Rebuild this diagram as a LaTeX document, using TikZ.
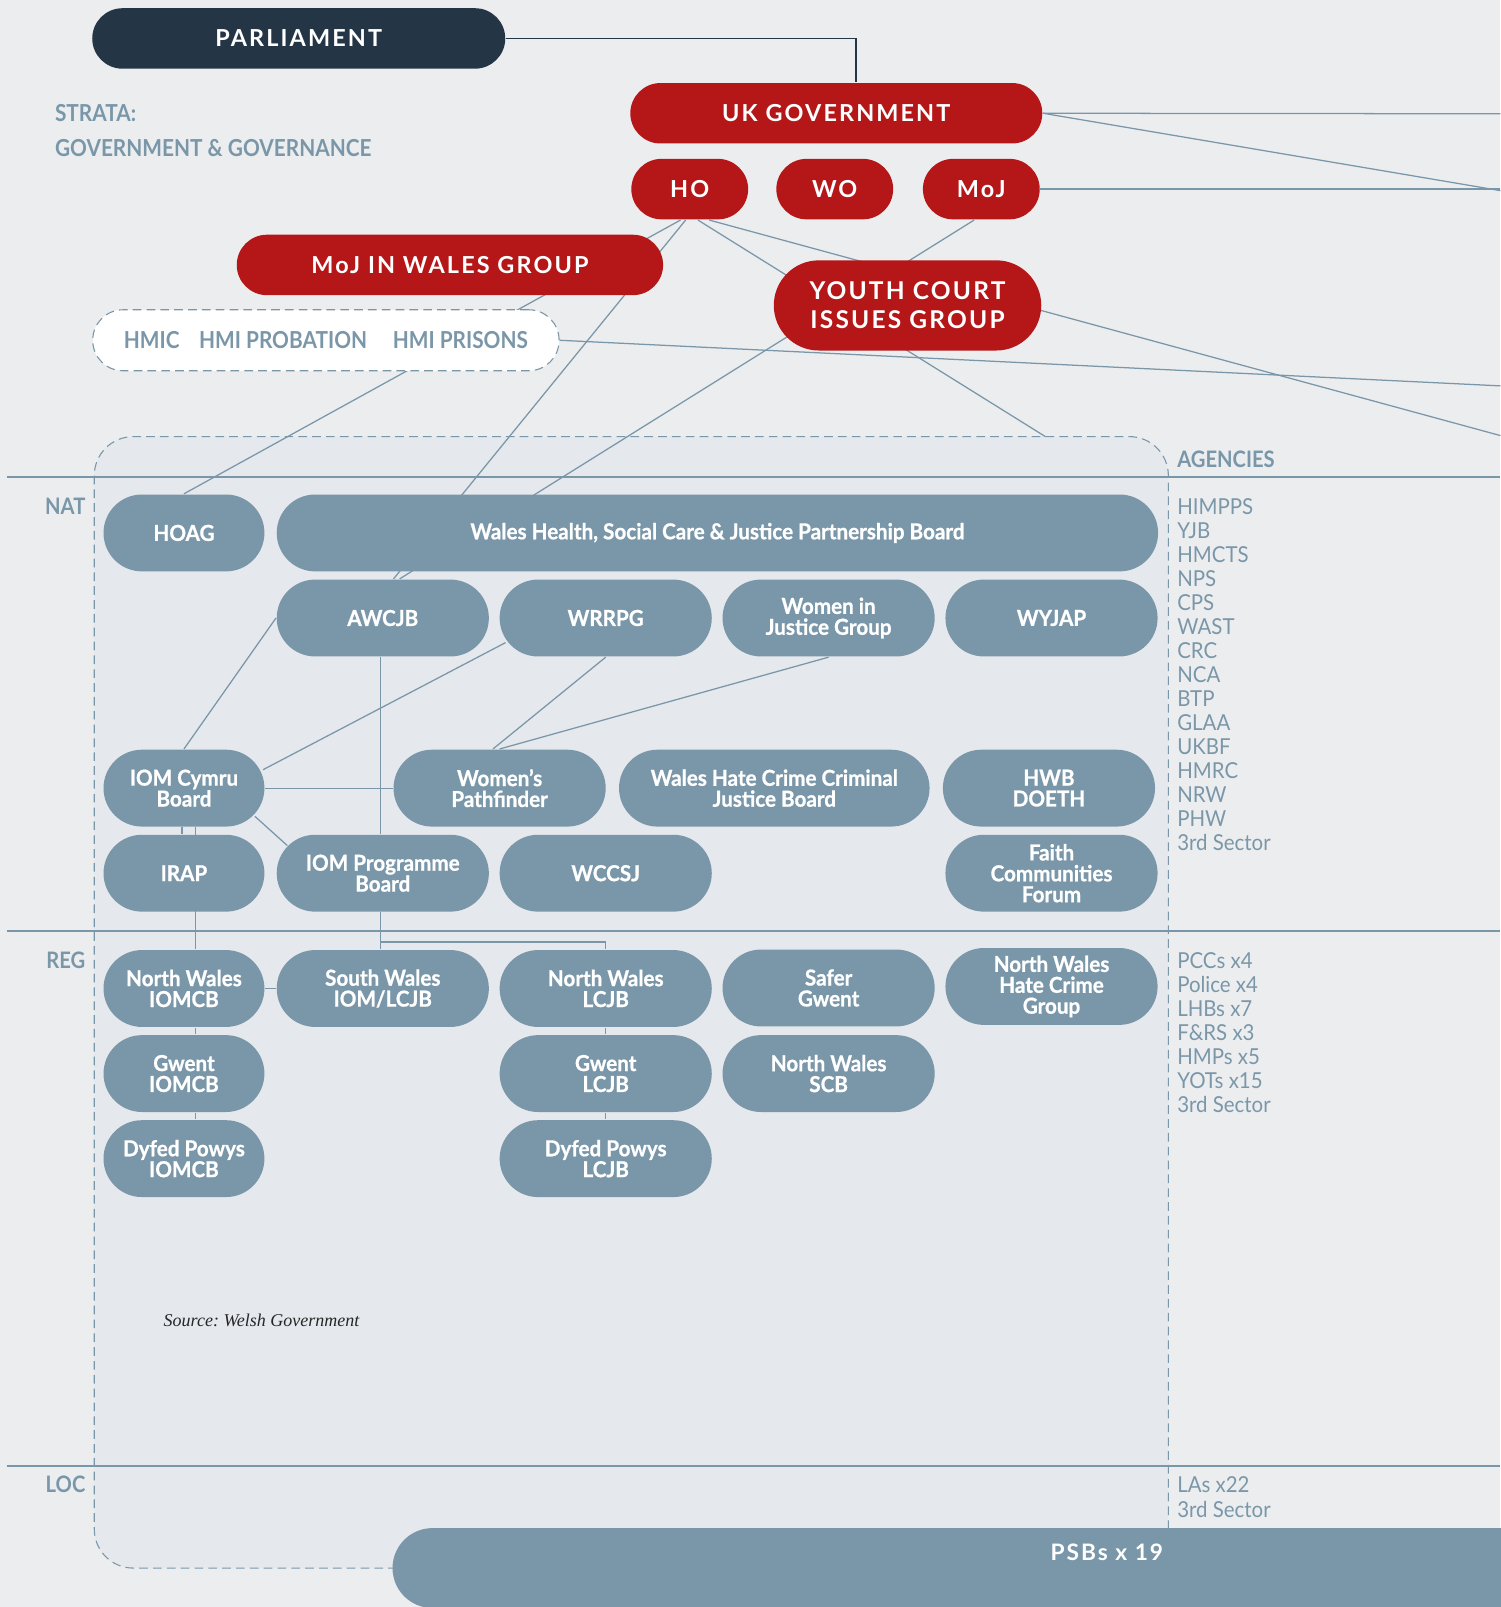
\documentclass[tikz,border=0pt]{standalone}
\usepackage{fontspec}
\newfontfamily\condfont{Lato}[FakeStretch=0.94,FakeBold=0.8]
\newfontfamily\tagfont{Lato}[FakeStretch=0.89]
\newfontfamily\agencyfont{Lato}[FakeStretch=0.93]
\newfontfamily\capsfont{Lato}[LetterSpace=9]
\newfontfamily\srcfont{Liberation Serif}
\usetikzlibrary{calc}
\definecolor{wred}{HTML}{B51718}
\definecolor{navy}{HTML}{243546}
\definecolor{slate}{HTML}{7A97A9}
\definecolor{paper}{HTML}{ECEDEF}
\definecolor{wales}{HTML}{E5E8EC}
\pgfdeclarelayer{back}
\pgfdeclarelayer{mid}
\pgfsetlayers{back,mid,main}
\begin{document}
\begin{tikzpicture}[x=0.1mm,y=-0.1mm,
    link/.style={draw=slate,line width=0.35pt},
    pill/.style={rounded corners=#1,inner sep=0pt,align=center,text=white},
    redbox/.style={pill=2.95mm,fill=wred,minimum height=5.9mm,font=\capsfont\bfseries\fontsize{6.5}{8}\selectfont},
    board/.style={pill=3.75mm,fill=slate,minimum height=7.5mm,minimum width=#1,font=\condfont\bfseries\fontsize{6.1}{5.8}\selectfont},
    board/.default=20.7mm,
    tag/.style={inner sep=0pt,text=slate,font=\tagfont\bfseries\fontsize{#1}{7}\selectfont},
    tag/.default=6.3,
    agency/.style={inner sep=0pt,anchor=west,text=slate,text height=4.4pt,text depth=0pt,font=\agencyfont\fontsize{6.1}{7}\selectfont}]
  \useasboundingbox (0,0) rectangle (1464,1568);

  \node[redbox,fill=navy,minimum width=40.3mm] (parl) at (291.5,37.5) {PARLIAMENT};
  \node[redbox,minimum width=40.2mm] (ukgov) at (816,110.5) {UK GOVERNMENT};
  \node[redbox,minimum width=11.4mm] (ho) at (673,184.5) {HO};
  \node[redbox,minimum width=11.4mm] (wo) at (814.5,184.5) {WO};
  \node[redbox,minimum width=11.4mm] (moj) at (957.5,184.5) {MoJ};
  \node[redbox,minimum width=41.6mm] (mojwg) at (439,258.5) {MoJ IN WALES GROUP};
  \node[redbox,minimum width=26.1mm,minimum height=8.8mm,rounded corners=4.4mm,font=\capsfont\bfseries\fontsize{6.8}{8}\selectfont] (ycig) at (885.5,298) {YOUTH COURT\\ISSUES GROUP};
  \node[pill=2.95mm,draw=slate,line width=0.3pt,dash pattern=on 0.85mm off 0.5mm,fill=white,minimum width=45.5mm,minimum height=5.95mm,
    text=slate,font=\tagfont\bfseries\fontsize{6.5}{8}\selectfont] (hmi) at (318,332) {HMIC\hspace{1.9mm}HMI PROBATION\hspace{2.5mm}HMI PRISONS};

  \node[tag=6.5,anchor=west] (strata) at (53,110.4) {STRATA:};
  \node[tag=6.5,anchor=west] (govern) at (53,144.5) {GOVERNMENT \& GOVERNANCE};
  \node[tag,anchor=east] (nat) at (84,494) {NAT};
  \node[tag,anchor=east] (reg) at (84,936.5) {REG};
  \node[tag,anchor=east] (loc) at (84,1448.5) {LOC};
  \node[tag,anchor=west] (agencies) at (1148,448) {AGENCIES};

  \node[board=15.7mm] (hoag) at (179.5,520) {HOAG};
  \node[board=86mm] (whsc) at (700,520) {Wales Health, Social Care \& Justice Partnership Board};
  \node[board] (awcjb) at (373.5,603) {AWCJB};
  \node[board] (wrrpg) at (591,603) {WRRPG};
  \node[board] (wijg) at (808.5,603) {Women in\\Justice Group};
  \node[board] (wyjap) at (1026,603) {WYJAP};
  \node[board=15.7mm] (iomc) at (179.5,769) {IOM Cymru\\Board};
  \node[board] (wpf) at (487.5,769) {Women’s\\Pathfinder};
  \node[board=30.3mm] (whccjb) at (755.5,769) {Wales Hate Crime Criminal\\Justice Board};
  \node[board] (hwb) at (1023.5,769) {HWB\\DOETH};
  \node[board=15.7mm] (irap) at (179.5,852) {IRAP};
  \node[board] (iompb) at (373.5,852) {IOM Programme\\Board};
  \node[board] (wccsj) at (591,852) {WCCSJ};
  \node[board] (fcf) at (1026,852) {Faith\\Communities\\Forum};
  \node[board=15.7mm] (nwiomcb) at (179.5,964.5) {North Wales\\IOMCB};
  \node[board] (swiom) at (373.5,964.5) {South Wales\\IOM/LCJB};
  \node[board] (nwlcjb) at (591,964.5) {North Wales\\LCJB};
  \node[board] (sgwent) at (808.5,964) {Safer\\Gwent};
  \node[board] (nwhcg) at (1026,962.5) {North Wales\\Hate Crime\\Group};
  \node[board=15.7mm] (gwiomcb) at (179.5,1047.5) {Gwent\\IOMCB};
  \node[board] (gwlcjb) at (591,1047.5) {Gwent\\LCJB};
  \node[board] (nwscb) at (808.5,1047.5) {North Wales\\SCB};
  \node[board=15.7mm] (dpiomcb) at (179.5,1130.5) {Dyfed Powys\\IOMCB};
  \node[board] (dplcjb) at (591,1130.5) {Dyfed Powys\\LCJB};
  \node[board=139.4mm,minimum height=7.8mm,rounded corners=3.9mm,font=\capsfont\bfseries\fontsize{6.3}{7}\selectfont] (psb) at (1080,1530) {\raisebox{0.75mm}[0pt][0pt]{PSBs x 19}};

  \foreach \a [count=\i] in {HIMPPS,YJB,HMCTS,NPS,CPS,WAST,CRC,NCA,BTP,GLAA,UKBF,HMRC,NRW,PHW,3rd Sector}
    \node[agency] (nat\i) at (1148,{494+23.45*(\i-1)}) {\a};
  \foreach \a [count=\i] in {PCCs x4,Police x4,LHBs x7,F\&RS x3,HMPs x5,YOTs x15,3rd Sector}
    \node[agency] (reg\i) at (1148,{937+23.42*(\i-1)}) {\a};
  \foreach \a [count=\i] in {LAs x22,3rd Sector}
    \node[agency] (loc\i) at (1148,{1448.6+24.4*(\i-1)}) {\a};

  \node[anchor=west,inner sep=0pt,font=\srcfont\itshape\fontsize{5}{6}\selectfont,text=black!85] (src) at (159,1288) {Source:\ Welsh Government};

  \coordinate (r1) at (1464,111);
  \coordinate (r2) at (1464,186);
  \coordinate (r3) at (1464,184.5);
  \coordinate (r4) at (1464,376.5);
  \coordinate (r5) at (1464,425);
  \coordinate (walestop) at (1020,426);

  \begin{pgfonlayer}{back}
    \fill[paper] (0,0) rectangle (1464,1568);
    \draw[slate,fill=wales,line width=0.3pt,dash pattern=on 0.85mm off 0.5mm,rounded corners=3.8mm] (92,426) rectangle (1140,1530);
    \foreach \y in {465,908,1430}
      \draw[slate,line width=0.55pt] (6.5,\y) -- (1464,\y);
  \end{pgfonlayer}

  \begin{pgfonlayer}{mid}
    \draw[navy,line width=0.5pt] (parl.east) -| ($(ukgov.north)+(19,0)$);
    \draw[link] (ukgov.east) -- (r1);
    \draw[link] (ukgov.east) -- (r2);
    \draw[link] (moj.east) -- (r3);
    \draw[link] (hmi.east) -- (r4);
    \draw[link] ($(ho.south)+(-9,0)$) -- (hoag.north);
    \draw[link] ($(ho.south)+(-4,0)$) -- ($(awcjb.north)+(10.5,0)$);
    \draw[link] ($(ho.south)+(8,0)$) -- (walestop);
    \draw[link] ($(ho.south)+(19,0)$) -- (r5);
    \draw[link] ($(moj.south)+(-7,0)$) -- ($(awcjb.north)+(16.5,0)$);
    \draw[link] (iomc.north) -- (awcjb.west);
    \draw[link] ($(iomc.east)+(-2,-18)$) -- ($(wrrpg.west)+(6.5,24)$);
    \draw[link] (iomc.east) -- (wpf.west);
    \draw[link] ($(iomc.east)+(-10,27.5)$) -- ($(iompb.west)+(11,-27)$);
    \draw[link] ($(iomc.south)+(-2,0)$) -- ($(irap.north)+(-2,0)$);
    \draw[link] ($(iomc.south)+(11.5,0)$) -- ($(nwiomcb.north)+(11.5,0)$);
    \draw[link] ($(nwiomcb.south)+(11.5,0)$) -- ($(gwiomcb.north)+(11.5,0)$);
    \draw[link] ($(gwiomcb.south)+(11.5,0)$) -- ($(dpiomcb.north)+(11.5,0)$);
    \draw[link] (nwiomcb.east) -- (swiom.west);
    \draw[link] ($(awcjb.south)+(-2,0)$) -- ($(iompb.north)+(-2,0)$);
    \draw[link] ($(iompb.south)+(-2,0)$) -- ($(swiom.north)+(-2,0)$);
    \draw[link] ($(iompb.south)+(-2,29)$) -| (nwlcjb.north);
    \draw[link] (nwlcjb.south) -- (gwlcjb.north);
    \draw[link] (gwlcjb.south) -- (dplcjb.north);
    \draw[link] (wrrpg.south) -- ($(wpf.north)+(-6.5,0)$);
    \draw[link] (wijg.south) -- (wpf.north);
  \end{pgfonlayer}
\end{tikzpicture}
\end{document}
